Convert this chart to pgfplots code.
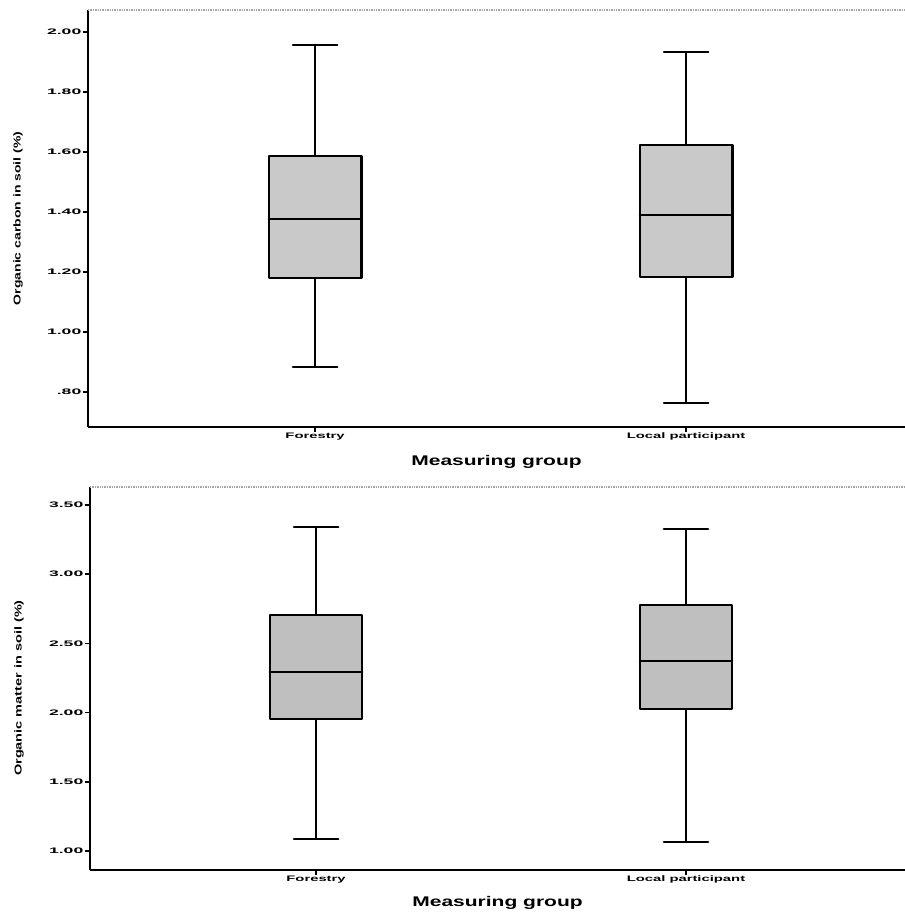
\documentclass[border=0pt]{standalone}
\usepackage{graphicx}
\usepackage{fontspec}
\setmainfont{Liberation Sans}
\usepackage{pgfplots}
\pgfplotsset{compat=1.18}
\usepgfplotslibrary{statistics}
\newcommand\sx[1]{\scalebox{2.2}[1]{\bfseries\fontsize{8}{9}\selectfont #1}}
\newcommand\sxl[1]{\scalebox{1.85}[1]{\bfseries\fontsize{8}{9}\selectfont #1}}
\pgfplotsset{
  spssbox/.style={
    scale only axis,
    boxplot/draw direction=y,
    axis x line*=bottom, axis y line*=left,
    axis line style={black, line width=2pt},
    tick align=outside,
    major tick length=5pt,
    tick style={black, line width=1.4pt},
    xtick={1,2},
    xticklabels={\sxl{Forestry},\sxl{Local participant}},
    xticklabel style={inner sep=1pt},
    yticklabel style={inner sep=1.5pt},
    xlabel={\scalebox{1.5}[1]{\bfseries\fontsize{14}{16}\selectfont Measuring group}},
    clip=false,
  },
  boxst/.style={draw=black, line width=2.2pt, line cap=round, line join=round, mark=none, solid},
}
\begin{document}
\begin{tikzpicture}
\path[use as bounding box] (0,0) rectangle (905pt,916pt);
% ---------- top panel: organic carbon ----------
\begin{axis}[spssbox,
  at={(88pt,489pt)}, anchor=south west,
  width=817pt, height=417pt,
  xmin=0.388, xmax=2.59, ymin=0.683, ymax=2.073,
  ytick={0.8,1.0,1.2,1.4,1.6,1.8,2.0},
  yticklabels={\sx{.80},\sx{1.00},\sx{1.20},\sx{1.40},\sx{1.60},\sx{1.80},\sx{2.00}},
  ylabel={\scalebox{1.4}[1]{\bfseries\fontsize{10}{11}\selectfont Organic carbon in soil (\%)}},
  ylabel style={at={(axis description cs:-0.0857,0.5)}, anchor=center},
  xlabel style={at={(axis description cs:0.5,0)}, anchor=center, yshift=-35pt},
]
\draw[gray!70, line width=1.4pt, densely dotted] (rel axis cs:0,1) -- (rel axis cs:1,1);
\addplot+[boxst, fill=gray!42, boxplot prepared={draw position=1, lower whisker=0.883, lower quartile=1.180, median=1.377, upper quartile=1.587, upper whisker=1.957, box extend=0.25, whisker extend=0.12}] coordinates {};
\addplot+[boxst, fill=gray!42, boxplot prepared={draw position=2, lower whisker=0.763, lower quartile=1.183, median=1.390, upper quartile=1.623, upper whisker=1.933, box extend=0.25, whisker extend=0.12}] coordinates {};
\end{axis}
% ---------- bottom panel: organic matter ----------
\begin{axis}[spssbox,
  at={(90pt,46pt)}, anchor=south west,
  width=815pt, height=383pt,
  xmin=0.389, xmax=2.592, ymin=0.863, ymax=3.63,
  ytick={1.0,1.5,2.0,2.5,3.0,3.5},
  yticklabels={\sx{1.00},\sx{1.50},\sx{2.00},\sx{2.50},\sx{3.00},\sx{3.50}},
  ylabel={\scalebox{1.45}[1]{\bfseries\fontsize{10}{11}\selectfont Organic matter in soil (\%)}},
  ylabel style={at={(axis description cs:-0.0871,0.475)}, anchor=center},
  xlabel style={at={(axis description cs:0.5,0)}, anchor=center, yshift=-33pt},
]
\draw[gray!70, line width=1.4pt, densely dotted] (rel axis cs:0,1) -- (rel axis cs:1,1);
\addplot+[boxst, fill=gray!50, boxplot prepared={draw position=1, lower whisker=1.087, lower quartile=1.954, median=2.293, upper quartile=2.705, upper whisker=3.340, box extend=0.25, whisker extend=0.12}] coordinates {};
\addplot+[boxst, fill=gray!50, boxplot prepared={draw position=2, lower whisker=1.065, lower quartile=2.026, median=2.373, upper quartile=2.777, upper whisker=3.327, box extend=0.25, whisker extend=0.12}] coordinates {};
\end{axis}
\end{tikzpicture}
\end{document}
